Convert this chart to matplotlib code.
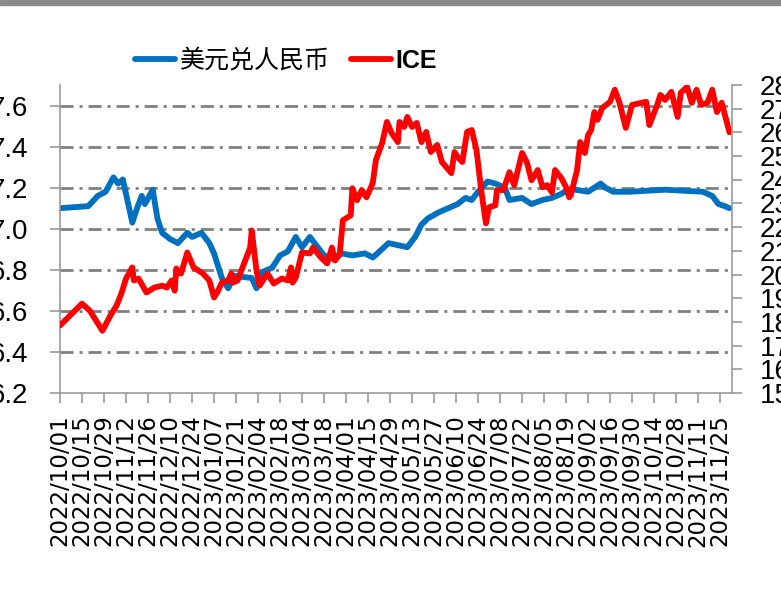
import matplotlib
matplotlib.use("Agg")
import matplotlib.pyplot as plt
import matplotlib.dates as mdates
from matplotlib.patches import Rectangle
import pandas as pd

# USD/CNY (left axis)
usd_dates = ["2022-10-01", "2022-10-19", "2022-10-25", "2022-10-30", "2022-11-04", "2022-11-07",
             "2022-11-10", "2022-11-16", "2022-11-19", "2022-11-22", "2022-11-24", "2022-11-29",
             "2022-12-02", "2022-12-05", "2022-12-10", "2022-12-15", "2022-12-21", "2022-12-24",
             "2022-12-30", "2023-01-04", "2023-01-07", "2023-01-12", "2023-01-16", "2023-01-20",
             "2023-01-31", "2023-02-03", "2023-02-07", "2023-02-13", "2023-02-18", "2023-02-23",
             "2023-02-28", "2023-03-04", "2023-03-09", "2023-03-14", "2023-03-18", "2023-03-25",
             "2023-03-29", "2023-04-05", "2023-04-13", "2023-04-18", "2023-04-21", "2023-04-28",
             "2023-05-04", "2023-05-10", "2023-05-15", "2023-05-19", "2023-05-23", "2023-05-30",
             "2023-06-05", "2023-06-11", "2023-06-16", "2023-06-20", "2023-06-24", "2023-06-30",
             "2023-07-05", "2023-07-11", "2023-07-14", "2023-07-22", "2023-07-28", "2023-08-04",
             "2023-08-10", "2023-08-16", "2023-08-20", "2023-08-25", "2023-09-02", "2023-09-10",
             "2023-09-13", "2023-09-18", "2023-09-28", "2023-10-21", "2023-11-14", "2023-11-20",
             "2023-11-24", "2023-11-28", "2023-12-01"]
usd_values = [7.10, 7.11, 7.16, 7.18, 7.25, 7.22,
              7.24, 7.03, 7.10, 7.16, 7.12, 7.19,
              7.05, 6.98, 6.95, 6.93, 6.98, 6.96,
              6.98, 6.93, 6.88, 6.76, 6.71, 6.77,
              6.76, 6.71, 6.79, 6.81, 6.87, 6.89,
              6.96, 6.91, 6.96, 6.91, 6.87, 6.85,
              6.88, 6.87, 6.88, 6.86, 6.88, 6.93,
              6.92, 6.91, 6.96, 7.02, 7.05, 7.08,
              7.10, 7.12, 7.15, 7.14, 7.18, 7.23,
              7.22, 7.20, 7.14, 7.15, 7.12, 7.14,
              7.15, 7.17, 7.19, 7.19, 7.18, 7.22,
              7.20, 7.18, 7.18, 7.19, 7.18, 7.16,
              7.12, 7.11, 7.10]

# ICE (right axis)
ice_dates = ["2022-10-01", "2022-10-06", "2022-10-15", "2022-10-20", "2022-10-24", "2022-10-28",
             "2022-11-02", "2022-11-06", "2022-11-09", "2022-11-12", "2022-11-16", "2022-11-17",
             "2022-11-20", "2022-11-25", "2022-11-30", "2022-12-05", "2022-12-08", "2022-12-11",
             "2022-12-13", "2022-12-14", "2022-12-17", "2022-12-21", "2022-12-25", "2022-12-31",
             "2023-01-04", "2023-01-07", "2023-01-09", "2023-01-12", "2023-01-16", "2023-01-18",
             "2023-01-19", "2023-01-22", "2023-01-30", "2023-01-31", "2023-02-03", "2023-02-05",
             "2023-02-10", "2023-02-14", "2023-02-19", "2023-02-23", "2023-02-25", "2023-02-26",
             "2023-02-28", "2023-03-04", "2023-03-09", "2023-03-11", "2023-03-16", "2023-03-20",
             "2023-03-23", "2023-03-25", "2023-03-28", "2023-03-30", "2023-04-04", "2023-04-05",
             "2023-04-08", "2023-04-11", "2023-04-14", "2023-04-18", "2023-04-20", "2023-04-24",
             "2023-04-27", "2023-04-30", "2023-05-04", "2023-05-05", "2023-05-08", "2023-05-10",
             "2023-05-13", "2023-05-16", "2023-05-19", "2023-05-22", "2023-05-25", "2023-05-29",
             "2023-06-01", "2023-06-07", "2023-06-09", "2023-06-11", "2023-06-14", "2023-06-17",
             "2023-06-20", "2023-06-23", "2023-06-26", "2023-06-29", "2023-07-01", "2023-07-05",
             "2023-07-06", "2023-07-10", "2023-07-14", "2023-07-17", "2023-07-22", "2023-07-25",
             "2023-07-28", "2023-08-01", "2023-08-04", "2023-08-07", "2023-08-10", "2023-08-12",
             "2023-08-16", "2023-08-19", "2023-08-21", "2023-08-22", "2023-08-26", "2023-08-28",
             "2023-08-31", "2023-09-02", "2023-09-04", "2023-09-06", "2023-09-08", "2023-09-11",
             "2023-09-16", "2023-09-19", "2023-09-22", "2023-09-26", "2023-09-30", "2023-10-09",
             "2023-10-11", "2023-10-16", "2023-10-18", "2023-10-21", "2023-10-25", "2023-10-29",
             "2023-10-31", "2023-11-04", "2023-11-07", "2023-11-10", "2023-11-13", "2023-11-17",
             "2023-11-20", "2023-11-23", "2023-11-26", "2023-12-01"]
ice_values = [17.85, 18.18, 18.77, 18.47, 18.05, 17.63,
              18.26, 18.69, 19.19, 19.83, 20.30, 19.75,
              19.83, 19.24, 19.45, 19.53, 19.45, 19.75,
              19.32, 20.25, 20.04, 20.93, 20.30, 20.04,
              19.75, 19.03, 19.24, 19.66, 19.75, 20.04,
              19.66, 19.75, 21.14, 21.86, 20.17, 19.53,
              20.04, 19.62, 19.83, 19.75, 20.30, 19.66,
              19.87, 20.93, 20.89, 21.14, 20.72, 20.47,
              21.14, 20.59, 20.89, 22.29, 22.50, 23.64,
              23.14, 23.56, 23.26, 23.86, 24.83, 25.55,
              26.44, 25.97, 25.59, 26.44, 26.23, 26.65,
              26.23, 26.40, 25.59, 26.02, 25.17, 25.47,
              24.75, 24.28, 25.17, 24.96, 24.75, 26.02,
              26.10, 25.25, 23.56, 22.16, 22.84, 22.92,
              23.56, 23.56, 24.32, 23.77, 25.13, 24.75,
              23.98, 24.41, 23.69, 23.77, 23.47, 24.41,
              24.07, 23.69, 23.26, 23.35, 24.41, 25.59,
              25.13, 25.89, 26.10, 26.86, 26.53, 27.03,
              27.29, 27.80, 27.25, 26.19, 27.16, 27.29,
              26.31, 27.16, 27.58, 27.37, 27.71, 26.65,
              27.67, 27.92, 27.25, 27.80, 27.16, 27.25,
              27.80, 26.86, 27.25, 26.00]

left_ticks = [6.2, 6.4, 6.6, 6.8, 7.0, 7.2, 7.4, 7.6]
right_ticks = list(range(15, 29))
tick_dates = pd.date_range("2022-10-01", "2023-11-25", freq="14D")

axis_gray = "#999999"
arial = ["Liberation Sans", "DejaVu Sans"]

fig = plt.figure(figsize=(7.81, 5.99), dpi=100)
ax = fig.add_axes([60 / 781, 1 - 393 / 599, 672 / 781, 308 / 599])
ax2 = ax.twinx()

l1, = ax.plot(pd.to_datetime(usd_dates), usd_values, color="#0070C0", lw=4.2,
              solid_joinstyle="round", solid_capstyle="round")
l2, = ax2.plot(pd.to_datetime(ice_dates), ice_values, color="#FF0000", lw=4.2,
               solid_joinstyle="round", solid_capstyle="round")

ax.set_xlim(pd.Timestamp("2022-10-01"), pd.Timestamp("2023-12-02 14:00"))
ax.set_xticks(tick_dates)
ax.xaxis.set_major_formatter(mdates.DateFormatter("%Y/%m/%d"))

ax.set_ylim(6.2, 7.7)
ax.set_yticks(left_ticks)
ax.set_yticklabels([f"{t:.1f}" for t in left_ticks])
ax2.set_ylim(15, 28)
ax2.set_yticks(right_ticks)

# dash-dot grid, skip the one sitting on the bottom axis
ax.yaxis.grid(True, color="#808080", lw=2, linestyle=(0, (4.7, 2.15, 1.1, 2.15)))
ax.yaxis.get_gridlines()[0].set_visible(False)
ax.set_axisbelow(True)

for s in ["top", "right"]:
    ax.spines[s].set_visible(False)
for s in ["top", "left", "bottom"]:
    ax2.spines[s].set_visible(False)
for s in ["left", "bottom"]:
    ax.spines[s].set_color(axis_gray)
    ax.spines[s].set_linewidth(1.2)
ax2.spines["right"].set_color(axis_gray)
ax2.spines["right"].set_linewidth(1.2)

ax.tick_params(axis="y", direction="out", length=7, width=1.2, color=axis_gray, pad=16, labelsize=20)
ax2.tick_params(axis="y", direction="out", length=7, width=1.2, color=axis_gray, pad=13, labelsize=20)
ax.tick_params(axis="x", direction="out", length=7, width=1.2, color=axis_gray, pad=8.5,
               labelsize=16.5, labelrotation=90)
for lbl in ax.get_yticklabels() + ax2.get_yticklabels():
    lbl.set_family(arial)

leg = fig.legend([l1, l2], ["美元兑人民币", "ICE"], loc="center left",
                 bbox_to_anchor=(122 / 781, 1 - 61 / 599), ncol=2, frameon=False,
                 borderpad=0, handlelength=1.6, handletextpad=0.2, columnspacing=0.85,
                 prop={"family": ["Noto Sans CJK SC", "DejaVu Sans"], "size": 18})
leg.get_texts()[1].set_family(arial)
leg.get_texts()[1].set_fontweight("bold")
leg.get_texts()[1].set_fontsize(18)

# grey strip along the top edge
fig.add_artist(Rectangle((0, 1 - 5 / 599), 1, 5 / 599, transform=fig.transFigure,
                         color="#8a8a8a", zorder=0))

fig.savefig("out.png", dpi=100)
